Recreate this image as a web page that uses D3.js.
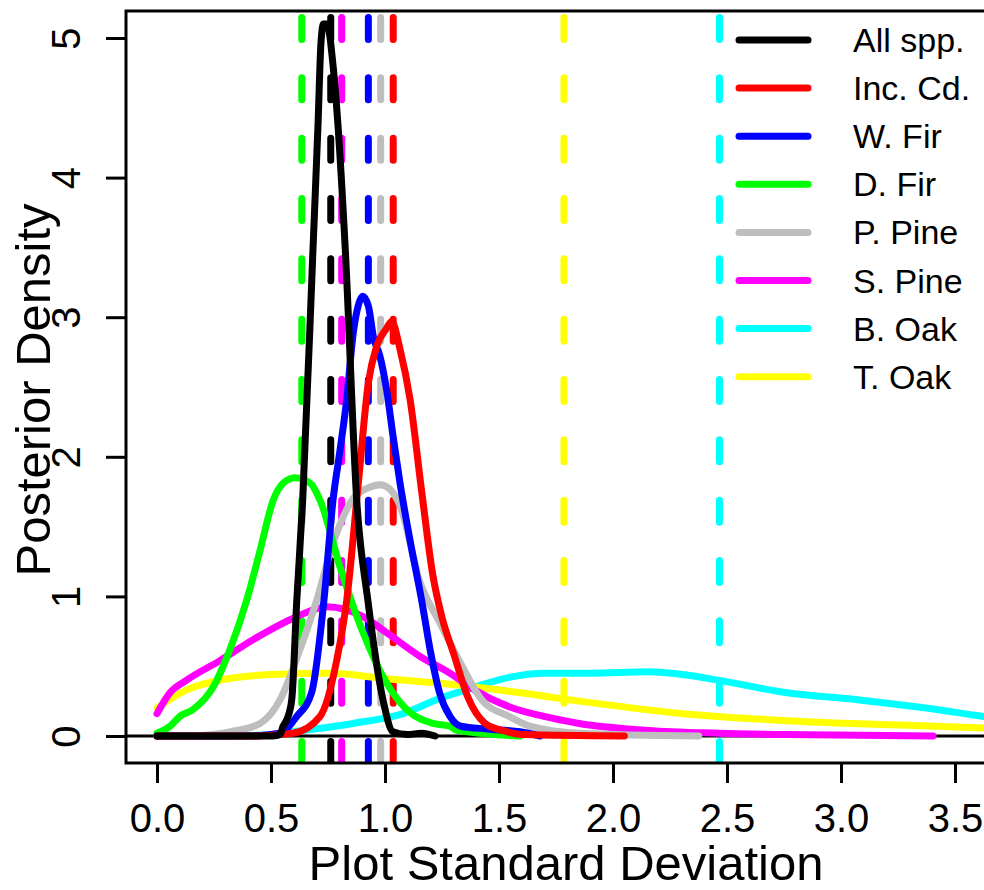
<!DOCTYPE html>
<html>
<head>
<meta charset="utf-8">
<script src="https://cdn.jsdelivr.net/npm/d3@7"></script>
<style>
  body { margin: 0; background: #fff; }
  svg { display: block; font-family: "Liberation Sans", Arial, Helvetica, sans-serif; }
</style>
</head>
<body>
<div class="chart"></div>
<script>
// legend / series names and colours
var seriesNames = ["All spp.", "Inc. Cd.", "W. Fir", "D. Fir", "P. Pine", "S. Pine", "B. Oak", "T. Oak"];
var seriesColors = ["#000000", "#ff0000", "#0000ff", "#00ff00", "#bebebe", "#ff00ff", "#00ffff", "#ffff00"];

// posterior means (dashed verticals), same order as names
var meanLines = [0.762, 1.036, 0.927, 0.635, 0.981, 0.810, 2.467, 1.785];

// density curves: [sd, density]
var allSpp = [[0,0],[0.3,0],[0.509,0],[0.54,0.01],[0.553,0.07],[0.57,0.12],[0.591,0.26],[0.613,0.97],[0.639,1.69],[0.684,3.48],[0.706,4.37],[0.719,4.96],[0.73,5.1],[0.745,5.1],[0.773,4.79],[0.794,4.37],[0.826,3.48],[0.876,1.69],[0.925,0.97],[0.991,0.26],[1.035,0.03],[1.1,0.01],[1.16,0.02],[1.22,0]];
var incCd = [[0,0],[0.4,0],[0.596,0.02],[0.715,0.14],[0.788,0.54],[0.832,0.97],[0.883,1.81],[0.927,2.53],[0.963,2.79],[1.007,2.92],[1.029,2.97],[1.066,2.77],[1.11,2.41],[1.161,1.75],[1.21,1.15],[1.25,0.85],[1.303,0.58],[1.363,0.28],[1.439,0.09],[1.515,0.04],[1.605,0.01],[2.05,0]];
var wFir = [[0,0],[0.408,0],[0.54,0.02],[0.613,0.14],[0.678,0.31],[0.732,0.97],[0.772,1.69],[0.803,2.05],[0.832,2.41],[0.861,2.89],[0.882,3.08],[0.902,3.15],[0.927,3.08],[0.949,2.86],[0.978,2.72],[1.007,2.48],[1.036,2.14],[1.066,1.81],[1.11,1.4],[1.161,0.97],[1.2,0.6],[1.241,0.3],[1.285,0.14],[1.333,0.07],[1.45,0.05],[1.592,0.03],[1.68,0]];
var dFir = [[0,0.02],[0.057,0.07],[0.1,0.14],[0.158,0.19],[0.246,0.35],[0.32,0.62],[0.393,0.97],[0.452,1.33],[0.51,1.69],[0.553,1.81],[0.605,1.85],[0.673,1.81],[0.715,1.69],[0.803,1.21],[0.904,0.74],[1.007,0.38],[1.095,0.19],[1.21,0.09],[1.285,0.07],[1.316,0.04],[1.592,0]];
var pPine = [[0,0],[0.13,0],[0.32,0.03],[0.452,0.09],[0.54,0.26],[0.627,0.62],[0.7,0.97],[0.772,1.38],[0.86,1.7],[0.93,1.78],[0.978,1.8],[1.02,1.77],[1.066,1.65],[1.154,1.1],[1.241,0.81],[1.332,0.52],[1.424,0.26],[1.544,0.14],[1.636,0.07],[1.851,0.02],[2.376,0]];
var sPine = [[0,0.16],[0.057,0.31],[0.13,0.4],[0.276,0.54],[0.421,0.69],[0.613,0.855],[0.744,0.926],[0.904,0.855],[1.007,0.74],[1.154,0.57],[1.285,0.45],[1.393,0.33],[1.544,0.21],[1.697,0.14],[1.851,0.09],[2.154,0.04],[2.461,0.02],[2.763,0.01],[3.404,0]];
var bOak = [[0,0],[0.3,0],[0.496,0.01],[0.64,0.04],[0.86,0.09],[1.079,0.16],[1.241,0.27],[1.393,0.35],[1.544,0.42],[1.697,0.45],[1.9,0.45],[2.154,0.46],[2.307,0.44],[2.461,0.4],[2.763,0.31],[3.07,0.26],[3.373,0.2],[3.627,0.14],[3.72,0.12]];
var tOak = [[0,0.2],[0.13,0.33],[0.276,0.4],[0.496,0.44],[0.76,0.45],[1.007,0.41],[1.285,0.37],[1.544,0.32],[1.851,0.25],[2.307,0.16],[2.763,0.11],[3.219,0.08],[3.627,0.057],[3.72,0.05]];
var seriesData = [allSpp, incCd, wFir, dFir, pPine, sPine, bOak, tOak];

var xTicks = [0, 0.5, 1, 1.5, 2, 2.5, 3, 3.5];
var yTicks = [0, 1, 2, 3, 4, 5];

// plot region (right edge runs off the picture)
var svgWidth = 984, svgHeight = 890;
var box = {left: 126, top: 11, right: 1006, bottom: 763};

var svg = d3.select(".chart").append("svg")
  .attr("width", svgWidth)
  .attr("height", svgHeight);

var x = d3.scaleLinear().domain([0, 3.5]).range([157, 955]);
var y = d3.scaleLinear().domain([0, 5]).range([736, 38]);

svg.append("clipPath").attr("id", "plotclip")
  .append("rect")
  .attr("x", box.left).attr("y", box.top)
  .attr("width", box.right - box.left).attr("height", box.bottom - box.top);

var plot = svg.append("g").attr("clip-path", "url(#plotclip)");

// h = 0 reference line
plot.append("line")
  .attr("x1", box.left).attr("x2", box.right)
  .attr("y1", y(0)).attr("y2", y(0))
  .attr("stroke", "#000").attr("stroke-width", 3);

// dashed mean lines
plot.selectAll(".mean")
  .data(meanLines)
  .enter()
  .append("line")
  .attr("class", "mean")
  .attr("x1", function(d) { return x(d); })
  .attr("x2", function(d) { return x(d); })
  .attr("y1", box.top + 6.5)
  .attr("y2", box.bottom + 40)
  .attr("stroke", function(d, i) { return seriesColors[i]; })
  .attr("stroke-width", 7)
  .attr("stroke-linecap", "round")
  .attr("stroke-dasharray", "22 38.33");

var line = d3.line()
  .x(function(d) { return x(d[0]); })
  .y(function(d) { return y(d[1]); })
  .curve(d3.curveMonotoneX);

// draw order: oaks first, all spp. last so it sits on top
var drawOrder = [6, 7, 5, 4, 3, 2, 1, 0];
plot.selectAll(".dens")
  .data(drawOrder)
  .enter()
  .append("path")
  .attr("class", "dens")
  .attr("d", function(i) { return line(seriesData[i]); })
  .attr("fill", "none")
  .attr("stroke", function(i) { return seriesColors[i]; })
  .attr("stroke-width", 7)
  .attr("stroke-linecap", "round")
  .attr("stroke-linejoin", "round");

// box
svg.append("rect")
  .attr("x", box.left).attr("y", box.top)
  .attr("width", box.right - box.left).attr("height", box.bottom - box.top)
  .attr("fill", "none").attr("stroke", "#000").attr("stroke-width", 3);

// x axis
var xAxis = svg.append("g")
  .attr("transform", "translate(0," + box.bottom + ")")
  .call(d3.axisBottom(x).tickValues(xTicks).tickFormat(d3.format(".1f")).tickSize(20));
xAxis.select(".domain").remove();
xAxis.selectAll("line").attr("stroke-width", 3);
xAxis.selectAll("text")
  .attr("y", 69).attr("dy", 0)
  .style("font-size", "40px")
  .style("font-family", "'Liberation Sans', Arial, sans-serif")
  .attr("fill", "#000");

// y axis, labels parallel to the axis
var yAxis = svg.append("g")
  .attr("transform", "translate(" + box.left + ",0)")
  .call(d3.axisLeft(y).tickValues(yTicks).tickFormat(d3.format("d")).tickSize(20));
yAxis.select(".domain").remove();
yAxis.selectAll("line").attr("stroke-width", 3);
yAxis.selectAll("text")
  .attr("transform", "rotate(-90)")
  .attr("x", 0).attr("y", -46).attr("dy", 0)
  .attr("text-anchor", "middle")
  .style("font-size", "40px")
  .style("font-family", "'Liberation Sans', Arial, sans-serif")
  .attr("fill", "#000");

// axis titles
svg.append("text")
  .attr("x", (box.left + box.right) / 2)
  .attr("y", 880)
  .attr("text-anchor", "middle")
  .style("font-size", "49px")
  .text("Plot Standard Deviation");

svg.append("text")
  .attr("transform", "translate(50," + 390 + ") rotate(-90)")
  .attr("text-anchor", "middle")
  .style("font-size", "49px")
  .text("Posterior Density");

// legend (no frame)
var legend = svg.append("g");
var rows = legend.selectAll(".row")
  .data(seriesNames)
  .enter()
  .append("g")
  .attr("transform", function(d, i) { return "translate(0," + (40 + 48.1 * i) + ")"; });
rows.append("line")
  .attr("x1", 739).attr("x2", 808)
  .attr("stroke", function(d, i) { return seriesColors[i]; })
  .attr("stroke-width", 7)
  .attr("stroke-linecap", "round");
rows.append("text")
  .attr("x", 853).attr("y", 12)
  .style("font-size", "34px")
  .text(function(d) { return d; });
</script>
</body>
</html>
